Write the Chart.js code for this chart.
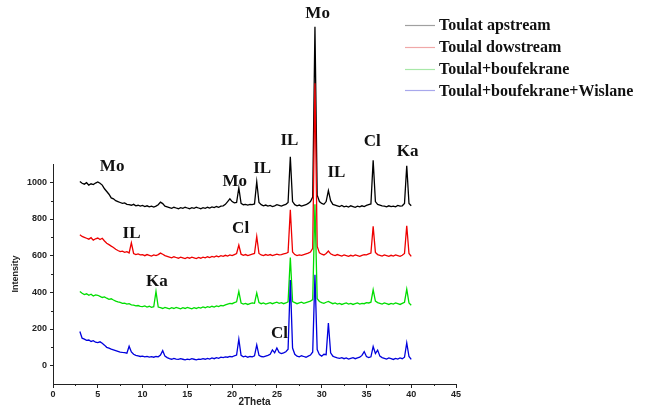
<!DOCTYPE html>
<html>
<head>
<meta charset="utf-8">
<script src="https://cdn.jsdelivr.net/npm/chart.js@4.4.0/dist/chart.umd.min.js"></script>
<style>
  html, body { margin: 0; padding: 0; background: #fff; }
  #xrd { display: block; }
</style>
</head>
<body>
<canvas id="xrd" width="646" height="419"></canvas>
<script>
// ==========================================
// XRD patterns
// ==========================================

const twoTheta = [
  3, 3.25, 3.5, 3.75,   4, 4.25, 4.5, 4.75,   5, 5.25, 5.5, 5.75,
  6, 6.25, 6.5, 6.75,   7, 7.25, 7.5, 7.75,   8, 8.25, 8.5, 8.75,
  9, 9.25, 9.5, 9.75,   10, 10.25, 10.5, 10.75, 11, 11.25, 11.5, 11.75,
  12, 12.25, 12.5, 12.75, 13, 13.25, 13.5, 13.75, 14, 14.25, 14.5, 14.75,
  15, 15.25, 15.5, 15.75, 16, 16.25, 16.5, 16.75, 17, 17.25, 17.5, 17.75,
  18, 18.25, 18.5, 18.75, 19, 19.25, 19.5, 19.75, 20, 20.25, 20.5, 20.75,
  21, 21.25, 21.5, 21.75, 22, 22.25, 22.5, 22.75, 23, 23.25, 23.5, 23.75,
  24, 24.25, 24.5, 24.75, 25, 25.25, 25.5, 25.75, 26, 26.25, 26.5, 26.75,
  27, 27.25, 27.5, 27.75, 28, 28.25, 28.5, 28.75, 29, 29.25, 29.5, 29.75,
  30, 30.25, 30.5, 30.75, 31, 31.25, 31.5, 31.75, 32, 32.25, 32.5, 32.75,
  33, 33.25, 33.5, 33.75, 34, 34.25, 34.5, 34.75, 35, 35.25, 35.5, 35.75,
  36, 36.25, 36.5, 36.75, 37, 37.25, 37.5, 37.75, 38, 38.25, 38.5, 38.75,
  39, 39.25, 39.5, 39.75, 40
];

// one row per degree (x.00, x.25, x.50, x.75), from 3 to 39, then 40
const toulatUp = [
  1005, 995, 990, 998,   985, 992, 988, 996,   1002, 995, 985, 965,
  950, 935, 915, 910,    900, 895, 890, 885,   888, 880, 878, 875,
  880, 872, 875, 870,    874, 868, 872, 866,   870, 865, 870, 878,
  892, 884, 870, 866,    862, 858, 864, 860,   856, 862, 858, 864,
  860, 856, 862, 858,    864, 860, 856, 862,   858, 864, 860, 866,
  862, 868, 864, 870,    872, 880, 895, 910,   895, 888, 890, 970,
  885, 878, 880, 876,    880, 878, 882, 1003,  890, 878, 872, 876,
  870, 874, 868, 872,    878, 874, 870, 876,   880, 890, 1140, 895,
  878, 872, 876, 870,    874, 878, 885, 895,   920, 1848, 930, 895,
  885, 880, 895, 955,    900, 880, 876, 872,   868, 874, 866, 870,
  865, 872, 868, 864,    870, 866, 872, 868,   874, 878, 882, 1120,
  895, 880, 876, 872,    870, 866, 872, 868,   870, 866, 874, 870,
  872, 885, 1090, 885,   872
];

const toulalDown = [
  714, 705, 700, 695,   690, 698, 685, 692,   696, 688, 695, 680,
  668, 660, 652, 645,   635, 628, 622, 625,   618, 622, 615, 670,
  612, 606, 610, 604,   605, 600, 606, 602,   598, 604, 600, 606,
  614, 608, 600, 596,   592, 588, 594, 590,   586, 592, 588, 584,
  590, 586, 592, 588,   584, 590, 586, 592,   588, 594, 590, 596,
  592, 598, 594, 600,   596, 602, 598, 604,   600, 606, 612, 658,
  608, 602, 606, 600,   604, 608, 612, 705,   612, 604, 600, 606,
  602, 606, 600, 604,   608, 604, 606, 610,   612, 618, 850, 620,
  606, 600, 604, 602,   606, 610, 614, 620,   640, 1540, 650, 615,
  608, 604, 612, 625,   610, 604, 600, 606,   602, 598, 604, 600,
  596, 602, 598, 604,   600, 596, 602, 606,   604, 610, 614, 760,
  618, 606, 602, 598,   604, 600, 596, 602,   598, 604, 600, 596,
  602, 612, 763, 612,   596
];

const toulalBouf = [
  405, 395, 388, 392,   384, 390, 380, 386,   384, 378, 372, 375,
  368, 362, 365, 358,   352, 348, 345, 340,   341, 336, 338, 332,
  330, 326, 328, 324,   322, 326, 320, 324,   318, 322, 405, 320,
  316, 312, 318, 314,   310, 316, 312, 318,   314, 310, 316, 312,
  318, 314, 310, 316,   312, 318, 314, 320,   316, 322, 318, 324,
  320, 326, 322, 328,   326, 332, 336, 340,   338, 344, 348, 405,
  342, 336, 340, 334,   338, 342, 340, 397,   344, 338, 342, 336,
  340, 344, 338, 342,   346, 340, 344, 338,   342, 348, 590, 350,
  344, 338, 342, 346,   340, 344, 348, 352,   360, 880, 365, 350,
  344, 340, 346, 350,   344, 338, 342, 336,   340, 334, 338, 342,
  336, 340, 334, 338,   342, 336, 340, 338,   344, 342, 346, 414,
  352, 344, 340, 336,   342, 338, 334, 340,   336, 342, 338, 334,
  340, 346, 417, 342,   330
];

const toulalBoufWis = [
  186, 150, 145, 138,   140, 132, 136, 128,   126, 130, 122, 112,
  100, 96, 90, 86,      82, 78, 74, 72,       71, 68, 106, 75,
  62, 56, 53, 50,       52, 48, 51, 47,       49, 46, 50, 48,
  58, 82, 52, 44,       38, 35, 40, 36,       34, 38, 35, 32,
  36, 33, 38, 35,       32, 36, 34, 38,       35, 40, 36, 42,
  38, 44, 40, 46,       44, 48, 46, 50,       48, 54, 58, 144,
  56, 48, 52, 46,       50, 48, 54, 113,      56, 50, 48, 52,
  56, 62, 86, 70,       96, 72, 66, 70,       76, 90, 467, 96,
  62, 52, 48, 54,       50, 46, 52, 58,       75, 496, 88, 60,
  52, 62, 60, 233,      70, 52, 46, 42,       40, 44, 38, 42,
  36, 40, 44, 38,       42, 46, 56, 77,       50, 44, 48, 104,
  66, 85, 52, 44,       40, 36, 42, 38,       34, 40, 36, 42,
  38, 46, 124, 50,      34
];

const seriesData   = [toulatUp, toulalDown, toulalBouf, toulalBoufWis];
const seriesNames  = ['Toulat apstream', 'Toulal dowstream', 'Toulal+boufekrane', 'Toulal+boufekrane+Wislane'];
const seriesColors = ['#000000', '#ee0000', '#00dd00', '#0000dd'];
const legendColors = ['#a0a0a0', '#f0a8a8', '#a8e8a8', '#a8a8ec'];

const xTicks      = [0, 5, 10, 15, 20, 25, 30, 35, 40, 45];
const xMinorTicks = [2.5, 7.5, 12.5, 17.5, 22.5, 27.5, 32.5, 37.5, 42.5];
const yTicks      = [0, 200, 400, 600, 800, 1000];
const yMinorTicks = [100, 300, 500, 700, 900];

// phase labels, placed in 2Theta / intensity units
const peakLabels = [
    { text: 'Mo', x: 6.6,   y: 1085 },
    { text: 'Mo', x: 29.55, y: 1920 },
    { text: 'IL', x: 26.4,  y: 1228 },
    { text: 'IL', x: 23.35, y: 1075 },
    { text: 'Mo', x: 20.3,  y: 1004 },
    { text: 'IL', x: 31.65, y: 1051 },
    { text: 'Cl', x: 35.65, y: 1223 },
    { text: 'Ka', x: 39.6,  y: 1168 },
    { text: 'IL', x: 8.77,  y: 723 },
    { text: 'Cl', x: 20.95, y: 747 },
    { text: 'Ka', x: 11.6,  y: 458 },
    { text: 'Cl', x: 25.3,  y: 176 },
];

// minor ticks, peak labels and the legend block
const extras = {
    id: 'extras',
    afterDraw(chart) {
        const { ctx, scales: { x, y } } = chart;
        ctx.save();
        ctx.strokeStyle = '#222';
        ctx.lineWidth = 1;
        ctx.beginPath();
        xMinorTicks.forEach(v => {
            const px = Math.round(x.getPixelForValue(v)) + 0.5;
            ctx.moveTo(px, y.bottom); ctx.lineTo(px, y.bottom + 2);
        });
        yMinorTicks.forEach(v => {
            const py = Math.round(y.getPixelForValue(v)) + 0.5;
            ctx.moveTo(x.left, py); ctx.lineTo(x.left - 2, py);
        });
        ctx.stroke();

        ctx.fillStyle = '#111';
        ctx.font = 'bold 17px "Liberation Serif", "Times New Roman", serif';
        ctx.textAlign = 'center';
        ctx.textBaseline = 'middle';
        peakLabels.forEach(p => ctx.fillText(p.text, x.getPixelForValue(p.x), y.getPixelForValue(p.y)));

        ctx.font = 'bold 16px "Liberation Serif", "Times New Roman", serif';
        ctx.textAlign = 'left';
        seriesNames.forEach((name, i) => {
            const ly = 25 + i * 21.8;
            ctx.strokeStyle = legendColors[i];
            ctx.lineWidth = 1.2;
            ctx.beginPath();
            ctx.moveTo(405, Math.round(ly) + 0.5);
            ctx.lineTo(435, Math.round(ly) + 0.5);
            ctx.stroke();
            ctx.fillStyle = '#111';
            ctx.fillText(name, 439, ly + 1);
        });
        ctx.restore();
    }
};

const tickFont  = { family: '"Liberation Sans", Arial, sans-serif', size: 9, weight: 'bold' };
const titleFont = { family: '"Liberation Sans", Arial, sans-serif', size: 9, weight: 'bold' };

new Chart(document.getElementById('xrd'), {
    type: 'line',
    data: {
        datasets: seriesData.map((vals, i) => ({
            label: seriesNames[i],
            data: twoTheta.map((t, j) => ({ x: t, y: vals[j] })),
            borderColor: seriesColors[i],
            borderWidth: 1.3,
            pointRadius: 0,
            tension: 0,
            clip: false,
            order: 4 - i,   // later patterns are painted over earlier ones
        })),
    },
    options: {
        responsive: false,
        animation: false,
        events: [],
        layout: { padding: { top: 164, right: 190, left: 0, bottom: 0 } },
        plugins: { legend: { display: false }, tooltip: { enabled: false } },
        scales: {
            x: {
                type: 'linear', min: 0, max: 45,
                afterBuildTicks: s => { s.ticks = xTicks.map(v => ({ value: v })); },
                afterFit: s => { s.height = 35; },
                grid: { display: true, drawOnChartArea: false, tickLength: 4, color: '#222' },
                border: { display: true, color: '#222', width: 1 },
                ticks: { color: '#222', padding: 1, maxRotation: 0, font: tickFont, callback: v => String(v) },
                title: { display: true, text: '2Theta', color: '#222', font: { ...titleFont, size: 10 },
                         padding: { top: 0, bottom: 11 } },
            },
            y: {
                type: 'linear', min: -100, max: 1100,
                afterBuildTicks: s => { s.ticks = yTicks.map(v => ({ value: v })); },
                afterFit: s => { s.width = 53; },
                grid: { display: true, drawOnChartArea: false, tickLength: 3, color: '#222' },
                border: { display: true, color: '#222', width: 1 },
                ticks: { color: '#222', padding: 3, font: tickFont, callback: v => String(v) },
                title: { display: true, text: 'Intensity', color: '#222', font: titleFont,
                         padding: { top: 10, bottom: 0 } },
            },
        },
    },
    plugins: [extras],
});
</script>
</body>
</html>
